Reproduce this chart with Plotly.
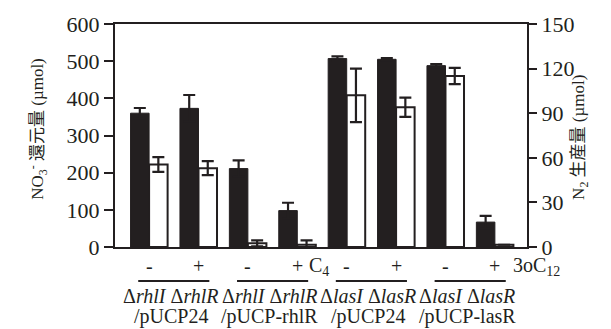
import plotly.graph_objects as go

# ---- data ----
conditions = ["-", "+", "-", "+", "-", "+", "-", "+"]
nitrate = [360, 373, 211, 98, 507, 505, 488, 67]          # NO3- reduced (µmol), left axis
nitrate_err = [14, 36, 22, 21, 6, 3, 4, 17]
n2 = [55.5, 53, 2.5, 1.5, 102, 94, 115, 1.5]              # N2 produced (µmol), right axis
n2_err = [5, 4.7, 2, 3, 18, 6.5, 5.5, 0]
strain_line1 = ["Δ<i>rhlI</i> Δ<i>rhlR</i>", "Δ<i>rhlI</i> Δ<i>rhlR</i>",
                "Δ<i>lasI</i> Δ<i>lasR</i>", "Δ<i>lasI</i> Δ<i>lasR</i>"]
strain_line2 = ["/pUCP24", "/pUCP-rhlR", "/pUCP24", "/pUCP-lasR"]
signal_labels = {3: "C<sub>4</sub>", 7: "3oC<sub>12</sub>"}
left_ticks = [0, 100, 200, 300, 400, 500, 600]
right_ticks = [0, 30, 60, 90, 120, 150]

INK = "#231f20"
FONT = "Liberation Serif, Times New Roman, Noto Sans CJK JP, serif"
xs = list(range(len(conditions)))

fig = go.Figure()
fig.add_trace(go.Bar(
    x=xs, y=nitrate, offset=-0.375, width=0.375,
    marker=dict(color=INK, line=dict(color=INK, width=1)),
    error_y=dict(type="data", array=nitrate_err, color=INK, thickness=2.2, width=6),
    yaxis="y", showlegend=False, hoverinfo="skip"))
fig.add_trace(go.Bar(
    x=xs, y=n2, offset=0, width=0.375,
    marker=dict(color="white", line=dict(color=INK, width=2)),
    error_y=dict(type="data", array=n2_err, color=INK, thickness=2.2, width=6),
    yaxis="y2", showlegend=False, hoverinfo="skip"))

annotations = []
for i, c in enumerate(conditions):
    annotations.append(dict(x=i, y=-0.087, xref="x", yref="paper", text=c,
                            showarrow=False, font=dict(size=20, family=FONT, color=INK),
                            xanchor="center", yanchor="middle"))
for k, lab in signal_labels.items():
    annotations.append(dict(x=k, y=-0.087, xref="x", yref="paper", text=lab,
                            showarrow=False, font=dict(size=20, family=FONT, color=INK),
                            xanchor="left", yanchor="middle", xshift=(10 if k == 3 else 16)))
shapes = []
for g in range(4):
    annotations.append(dict(x=2 * g + 0.5, y=-0.219, xref="x", yref="paper", text=strain_line1[g],
                            showarrow=False, font=dict(size=20, family=FONT, color=INK),
                            xanchor="center", yanchor="middle", xshift=-3))
    annotations.append(dict(x=2 * g + 0.5, y=-0.313, xref="x", yref="paper", text=strain_line2[g],
                            showarrow=False, font=dict(size=20, family=FONT, color=INK),
                            xanchor="center", yanchor="middle", xshift=-3))
    shapes.append(dict(type="line", xref="x", yref="paper", x0=2 * g - 0.22, x1=2 * g + 1.22,
                       y0=-0.153, y1=-0.153, line=dict(color=INK, width=2)))

# axis titles
annotations.append(dict(x=-0.187, y=0.53, xref="paper", yref="paper",
                        text="NO<sub>3</sub><sup>-</sup> 還元量 (µmol)", textangle=-90,
                        showarrow=False, font=dict(size=17, family=FONT, color=INK),
                        xanchor="center", yanchor="middle"))
annotations.append(dict(x=1.129, y=0.49, xref="paper", yref="paper",
                        text="N<sub>2</sub> 生産量 (µmol)", textangle=-90,
                        showarrow=False, font=dict(size=17, family=FONT, color=INK),
                        xanchor="center", yanchor="middle"))

fig.update_layout(
    width=611, height=329,
    margin=dict(l=115, r=84, t=20, b=82),
    paper_bgcolor="white", plot_bgcolor="white",
    barmode="overlay",
    font=dict(family=FONT, size=22, color=INK),
    xaxis=dict(range=[-0.69, 7.65], showline=True, mirror=True, linecolor=INK, linewidth=2,
               showticklabels=False, ticks="", showgrid=False, zeroline=False),
    yaxis=dict(range=[0, 600], tickvals=left_ticks, showline=True, linecolor=INK, linewidth=2,
               ticks="outside", ticklen=9, tickwidth=2, tickcolor=INK, showgrid=False,
               zeroline=False, tickfont=dict(size=22, family=FONT, color=INK)),
    yaxis2=dict(range=[0, 150], tickvals=right_ticks, overlaying="y", side="right",
                showline=True, linecolor=INK, linewidth=2, ticks="outside", ticklen=8,
                tickwidth=2, tickcolor=INK, showgrid=False, zeroline=False,
                tickfont=dict(size=22, family=FONT, color=INK)),
    annotations=annotations,
    shapes=shapes,
)

fig.write_html("out.html", config={"displayModeBar": False},
               post_script="document.body.style.margin='0';document.body.style.overflow='hidden';")
